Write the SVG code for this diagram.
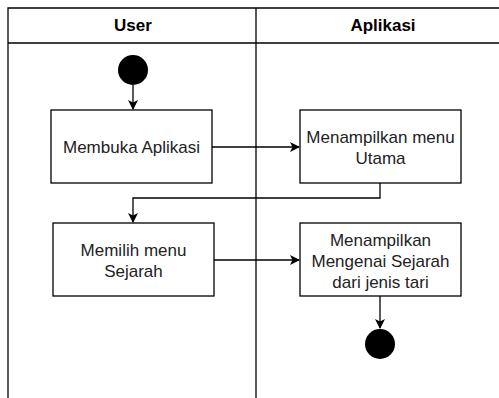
<svg xmlns="http://www.w3.org/2000/svg" width="499" height="398" viewBox="0 0 499 398">
<defs>
<style>
.lane{fill:none;stroke:#000;stroke-width:1.3}
.box{fill:#fff;stroke:#000;stroke-width:1.3}
.t{font-family:"Liberation Sans",Arial,sans-serif;font-size:17px;fill:#222;text-anchor:middle}
.h{font-family:"Liberation Sans",Arial,sans-serif;font-size:17px;font-weight:bold;fill:#000;text-anchor:middle}
.c{fill:none;stroke:#000;stroke-width:1.3}
</style>
<marker id="arr" viewBox="0 0 10 10" refX="9" refY="5" markerWidth="10" markerHeight="10" markerUnits="userSpaceOnUse" orient="auto">
<path d="M0,0 L10,5 L0,10 L2.5,5 Z" fill="#000"/>
</marker>
</defs>
<g id="pool">
<path class="lane" d="M8,398 V8 H510 M8,43 H510 M256,8 V398"/>
<text class="h" x="133" y="31">User</text>
<text class="h" x="383" y="31">Aplikasi</text>
</g>
<g id="connectors">
<path class="c" d="M133,85 V109" marker-end="url(#arr)"/>
<path class="c" d="M212,147 H299" marker-end="url(#arr)"/>
<path class="c" d="M380,183 V198 H133 V222" marker-end="url(#arr)"/>
<path class="c" d="M214,260 H299" marker-end="url(#arr)"/>
<path class="c" d="M380,296 V328" marker-end="url(#arr)"/>
</g>
<g id="start"><circle cx="133" cy="70" r="15" fill="#000"/></g>
<g id="n1"><rect class="box" x="51" y="110" width="161" height="73"/><text class="t" x="131.5" y="153">Membuka Aplikasi</text></g>
<g id="n2"><rect class="box" x="300" y="110" width="161" height="73"/><text class="t" x="380.5" y="143">Menampilkan menu</text><text class="t" x="380.5" y="164">Utama</text></g>
<g id="n3"><rect class="box" x="53" y="223" width="161" height="73"/><text class="t" x="133.5" y="256">Memilih menu</text><text class="t" x="133.5" y="277">Sejarah</text></g>
<g id="n4"><rect class="box" x="300" y="223" width="161" height="73"/><text class="t" x="380.5" y="246">Menampilkan</text><text class="t" x="380.5" y="267">Mengenai Sejarah</text><text class="t" x="380.5" y="288">dari jenis tari</text></g>
<g id="end"><circle cx="380" cy="344" r="15" fill="#000"/></g>
</svg>
